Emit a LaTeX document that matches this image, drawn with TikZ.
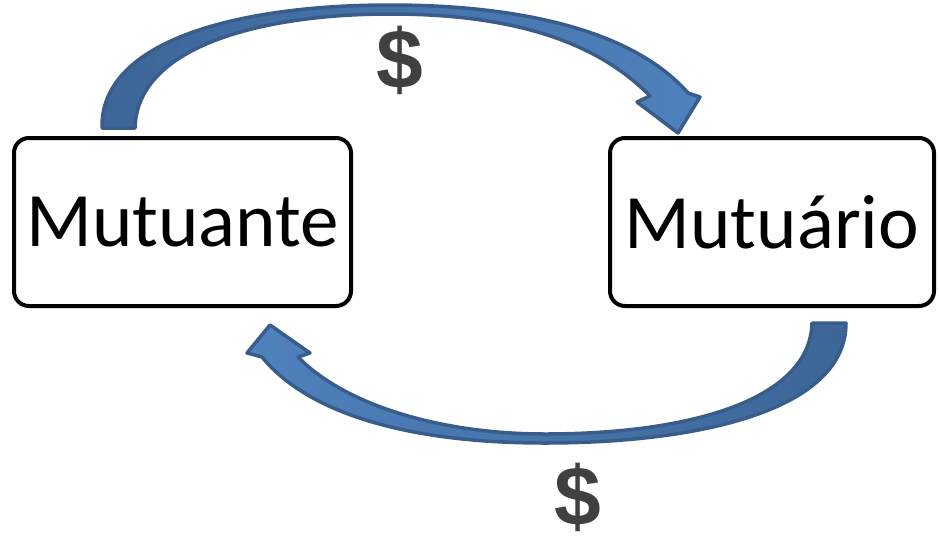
\documentclass[tikz,border=0pt]{standalone}
\usepackage{fontspec}
\setmainfont{Carlito}
\newfontfamily\dollarfont{Liberation Sans}
\usetikzlibrary{arrows}

\definecolor{arrowdark}{HTML}{3D6697}
\definecolor{arrowlight}{HTML}{4F81BD}
\definecolor{arrowline}{HTML}{385D8A}
\definecolor{dollargray}{HTML}{404040}

\tikzset{
  party/.style={draw, line width=4pt, rounded corners=15pt, align=center,
    minimum height=168pt, font=\fontsize{77}{90}\selectfont, inner sep=0pt},
  blockarrow/.style={draw=arrowline, line width=3.5pt, line join=round},
  money/.style={text=dollargray, font=\dollarfont\bfseries\fontsize{84}{90}\selectfont, inner sep=0pt}
}

\begin{document}
\begin{tikzpicture}[x=1pt, y=-1pt]
    \useasboundingbox (0, 0) rectangle (939, 541);

    \node [party, minimum width=337pt] (mutuante) at (182.5, 222) {Mutuante};
    \node [party, minimum width=324pt] (mutuario) at (772, 222) {Mutuário};

    \draw [blockarrow, left color=arrowdark, right color=arrowlight]
       (102, 128) .. controls (100, 40) and (240, 5) .. (390, 5)
       .. controls (540, 5) and (640, 38) .. (688, 93)
       -- (700, 97) -- (678, 133) -- (637, 102) -- (650, 96)
       .. controls (600, 45) and (520, 14) .. (390, 14)
       .. controls (265, 14) and (137, 45) .. (135, 128) -- cycle;
    \node [money] (paid) at (400, 60) {\$};

    \draw [blockarrow, left color=arrowlight, right color=arrowdark]
       (846, 323) .. controls (846, 410) and (700, 443) .. (545, 443)
       .. controls (400, 443) and (305, 410) .. (262, 357)
       -- (247, 353) -- (270, 325) -- (310, 353) -- (298, 357)
       .. controls (345, 405) and (440, 434) .. (545, 434)
       .. controls (690, 434) and (810, 400) .. (812, 323) -- cycle;
    \node [money] (repaid) at (578, 497) {\$};
\end{tikzpicture}
\end{document}
